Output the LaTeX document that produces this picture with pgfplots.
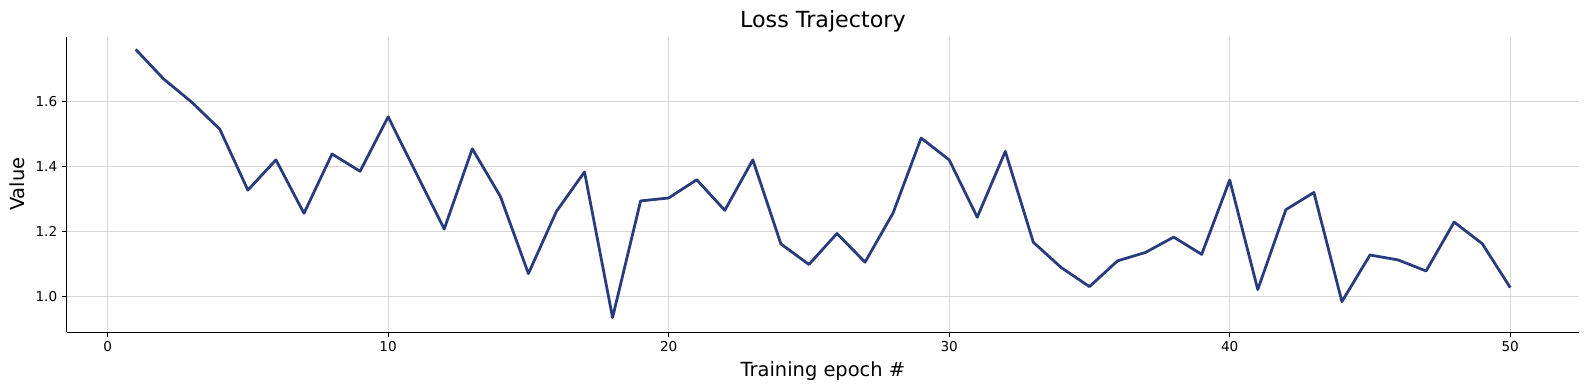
\documentclass[border=0pt]{standalone}
\usepackage{fontspec}
\setmainfont{DejaVu Sans}
\usepackage{pgfplots}
\pgfplotsset{compat=1.18}
\definecolor{navy}{RGB}{40,60,125}
\definecolor{gridc}{RGB}{214,214,214}
\begin{document}
\begin{tikzpicture}
\useasboundingbox (-48.2pt,-41.6pt) rectangle (1095.9pt,239.1pt);
\begin{axis}[
  at={(0,0)}, anchor=south west,
  scale only axis, width=1088.7pt, height=212.8pt,
  xmin=-1.45, xmax=52.45, ymin=0.8915, ymax=1.7985,
  axis x line*=bottom, axis y line*=left,
  axis line style={line width=0.8pt},
  xtick={0,10,20,30,40,50},
  ytick={1.0,1.2,1.4,1.6},
  yticklabel style={/pgf/number format/fixed,/pgf/number format/fixed zerofill,/pgf/number format/precision=1},
  /pgf/number format/assume math mode=true,
  tick label style={font=\fontsize{9.8}{11}\selectfont},
  tick align=outside, major tick length=3.5pt,
  tick style={line width=0.8pt, black},
  grid=major, major grid style={gridc, line width=0.6pt},
  clip=false,
]
\addplot[navy, line width=2pt, line join=round] coordinates {
(1,1.759)(2,1.668)(3,1.597)(4,1.514)(5,1.327)(6,1.420)(7,1.256)(8,1.438)(9,1.385)(10,1.552)
(11,1.379)(12,1.208)(13,1.454)(14,1.308)(15,1.071)(16,1.262)(17,1.383)(18,0.936)(19,1.294)(20,1.303)
(21,1.359)(22,1.265)(23,1.420)(24,1.162)(25,1.099)(26,1.194)(27,1.106)(28,1.257)(29,1.487)(30,1.420)
(31,1.244)(32,1.446)(33,1.167)(34,1.089)(35,1.031)(36,1.110)(37,1.136)(38,1.183)(39,1.130)(40,1.358)
(41,1.022)(42,1.267)(43,1.320)(44,0.985)(45,1.128)(46,1.113)(47,1.079)(48,1.229)(49,1.163)(50,1.028)
};
\end{axis}
\node[anchor=base, font=\fontsize{16}{19}\selectfont] at (544.3pt,219.4pt) {Loss Trajectory};
\node[anchor=base, font=\fontsize{14}{17}\selectfont] at (544.3pt,-31.7pt) {Training epoch \#};
\node[anchor=base, rotate=90, font=\fontsize{14}{17}\selectfont] at (-30.2pt,106.4pt) {Value};
\end{tikzpicture}
\end{document}
